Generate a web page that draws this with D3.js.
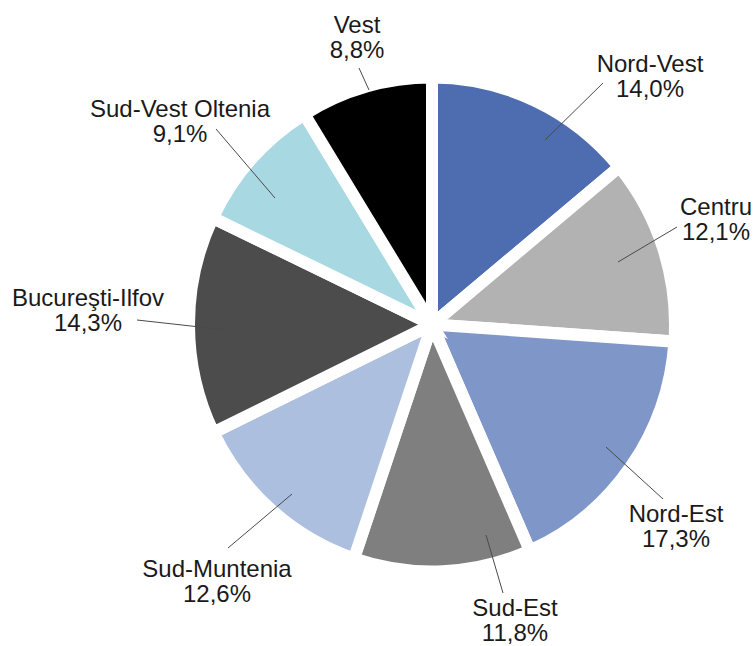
<!DOCTYPE html>
<html>
<head>
<meta charset="utf-8">
<script src="https://cdn.jsdelivr.net/npm/d3@7"></script>
<style>
  html, body { margin: 0; padding: 0; background: #fff; }
  svg { display: block; }
  text { font-family: "Liberation Sans", Arial, sans-serif; font-size: 24px; fill: #1a1a1a; }
</style>
</head>
<body>
<svg id="chart" width="756" height="646"></svg>
<script>
// ---- data ----
const regions = ["Nord-Vest", "Centru", "Nord-Est", "Sud-Est", "Sud-Muntenia", "Bucureşti-Ilfov", "Sud-Vest Oltenia", "Vest"];
const shares  = [14.0, 12.1, 17.3, 11.8, 12.6, 14.3, 9.1, 8.8];
const valueLabels = ["14,0%", "12,1%", "17,3%", "11,8%", "12,6%", "14,3%", "9,1%", "8,8%"];

// ---- styling / layout (not data) ----
const colors = ["#4E6CB0", "#B2B2B2", "#7E96C8", "#7F7F7F", "#ADBFDF", "#4C4C4C", "#A8D9E2", "#000000"];
// label text anchor (center x, first baseline y) and leader line endpoints
const labelLayout = [
  {x: 650, y: 72,  l: [[603, 83], [545, 140]]},
  {x: 716, y: 215, l: [[677, 227], [618, 262]]},
  {x: 676, y: 522, l: [[663, 499], [606, 447]]},
  {x: 515, y: 616, l: [[503, 593], [486, 535]]},
  {x: 217, y: 577, l: [[228, 548], [292, 494]]},
  {x: 88,  y: 306, l: [[137, 320], [227, 330]]},
  {x: 180, y: 117, l: [[216, 129], [275, 198]]},
  {x: 357, y: 33,  l: [[359, 68], [369, 90]]}
];

const svg = d3.select("#chart");
const cx = 432, cy = 324.5, R = 243;

const pie = d3.pie().sort(null).value(d => d).startAngle(0).endAngle(2 * Math.PI);
const arc = d3.arc().innerRadius(0).outerRadius(R);
const arcs = pie(shares);

const g = svg.append("g").attr("transform", `translate(${cx},${cy}) scale(1,1.017)`);
g.selectAll("path")
  .data(arcs)
  .join("path")
  .attr("d", arc)
  .attr("fill", (d, i) => colors[i])
  .attr("stroke", "#fff")
  .attr("stroke-width", 12)
  .attr("stroke-linejoin", "miter");

// leader lines
svg.append("g").selectAll("line")
  .data(labelLayout)
  .join("line")
  .attr("x1", d => d.l[0][0]).attr("y1", d => d.l[0][1])
  .attr("x2", d => d.l[1][0]).attr("y2", d => d.l[1][1])
  .attr("stroke", "#4a4a4a")
  .attr("stroke-width", 1);

// labels
const lbl = svg.append("g").selectAll("text")
  .data(regions)
  .join("text")
  .attr("text-anchor", "middle")
  .attr("x", (d, i) => labelLayout[i].x)
  .attr("y", (d, i) => labelLayout[i].y);
lbl.append("tspan").attr("x", (d, i) => labelLayout[i].x).text(d => d);
lbl.append("tspan").attr("x", (d, i) => labelLayout[i].x).attr("dy", 25).text((d, i) => valueLabels[i]);
</script>
</body>
</html>
